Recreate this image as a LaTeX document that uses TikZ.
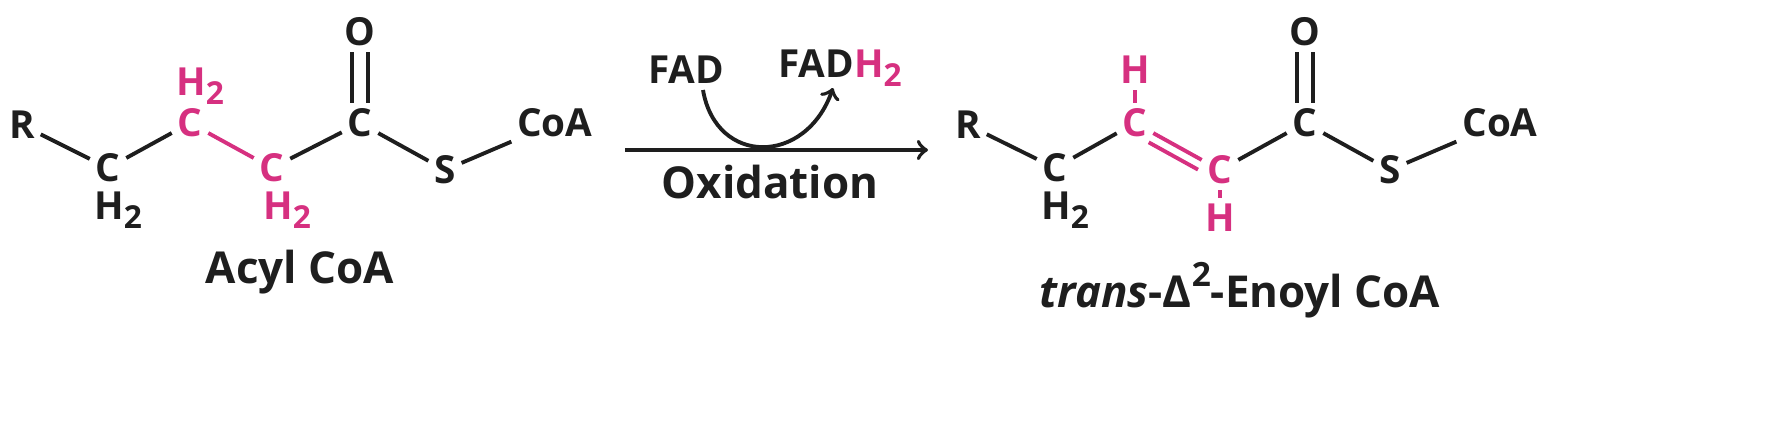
\documentclass[tikz,border=0pt]{standalone}
\usepackage{fontspec}
\setmainfont{Open Sans}
\usepackage{xcolor}
\usetikzlibrary{positioning,calc}
\definecolor{hot}{RGB}{214,48,128}
\definecolor{ink}{RGB}{30,30,30}
\newcommand{\subtwo}{\raisebox{-0.45ex}{\fontsize{9pt}{9pt}\selectfont 2}}
\begin{document}
\begin{tikzpicture}[x=0.01cm,y=-0.01cm,
    atom/.style={inner sep=1.5pt, font=\fontsize{11pt}{11pt}\bfseries, text=ink},
    hatom/.style={atom, text=hot},
    bond/.style={line width=1.1pt, draw=ink},
    hbond/.style={bond, draw=hot},
    title/.style={font=\fontsize{12.5pt}{12.5pt}\bfseries, text=ink},
]
\useasboundingbox (0,0) rectangle (1765,445);

% Acyl CoA
\node[atom] (r1) at (22,125) {R};
\node[atom] (a1) at (108,168) {C};
\node[atom] (a1h) at (118,210) {H\subtwo};
\node[hatom] (a2) at (190,123) {C};
\node[hatom] (a2h) at (200,86) {H\subtwo};
\node[hatom] (a3) at (272,168) {C};
\node[hatom] (a3h) at (287,210) {H\subtwo};
\node[atom] (a4) at (360,123) {C};
\node[atom] (o1) at (360,32) {O};
\node[atom] (s1) at (445,170) {S};
\node[atom] (coa1) at (555,123) {CoA};
\node[title] (acyl) at (300,272) {Acyl CoA};

\draw[bond] (r1) -- (a1);
\draw[bond] (a1) -- (a2);
\draw[hbond] (a2) -- (a3);
\draw[bond] (a3) -- (a4);
\draw[bond] (a4) -- (s1);
\draw[bond] (s1) -- (coa1);
\draw[bond] ([xshift=-2.2pt]a4.north) -- ([xshift=-2.2pt]o1.south);
\draw[bond] ([xshift=2.2pt]a4.north) -- ([xshift=2.2pt]o1.south);

% reaction arrow
\node[atom] (fad) at (686,70) {FAD};
\node[atom] (fadh) at (840,68) {FAD\textcolor{hot}{H\subtwo}};
\node[title, font=\fontsize{12.5pt}{12.5pt}\bfseries] (ox) at (770,182) {Oxidation};
\coordinate (arrs) at (625,150);
\coordinate (arre) at (928,150);
\coordinate (cs) at (703,90);
\coordinate (ce) at (833,88);
\draw[bond, ->] (arrs) -- (arre);
\draw[bond, ->] (cs) .. controls (716,166) and (806,166) .. (ce);

% trans-Delta2-Enoyl CoA
\node[atom] (r2) at (968,125) {R};
\node[atom] (b1) at (1055,168) {C};
\node[atom] (b1h) at (1065,210) {H\subtwo};
\node[hatom] (b2) at (1135,123) {C};
\node[hatom] (b2h) at (1135,70) {H};
\node[hatom] (b3) at (1220,170) {C};
\node[hatom] (b3h) at (1220,218) {H};
\node[atom] (b4) at (1305,123) {C};
\node[atom] (o2) at (1305,32) {O};
\node[atom] (s2) at (1390,170) {S};
\node[atom] (coa2) at (1500,123) {CoA};
\node[title] (enoyl) at (1240,290) {\textit{trans}-Δ\raisebox{0.9ex}{\fontsize{9.5pt}{9.5pt}\selectfont 2}-Enoyl CoA};

\coordinate (db1) at ($(b2)!0.22!(b3)+(-5,9)$);
\coordinate (db2) at ($(b2)!0.8!(b3)+(-5,9)$);
\draw[bond] (r2) -- (b1);
\draw[bond] (b1) -- (b2);
\draw[hbond] (b2) -- (b3);
\draw[hbond] (db1) -- (db2);
\draw[hbond] (b2) -- (b2h);
\draw[hbond] (b3) -- (b3h);
\draw[bond] (b3) -- (b4);
\draw[bond] (b4) -- (s2);
\draw[bond] (s2) -- (coa2);
\draw[bond] ([xshift=-2.2pt]b4.north) -- ([xshift=-2.2pt]o2.south);
\draw[bond] ([xshift=2.2pt]b4.north) -- ([xshift=2.2pt]o2.south);
\end{tikzpicture}
\end{document}
